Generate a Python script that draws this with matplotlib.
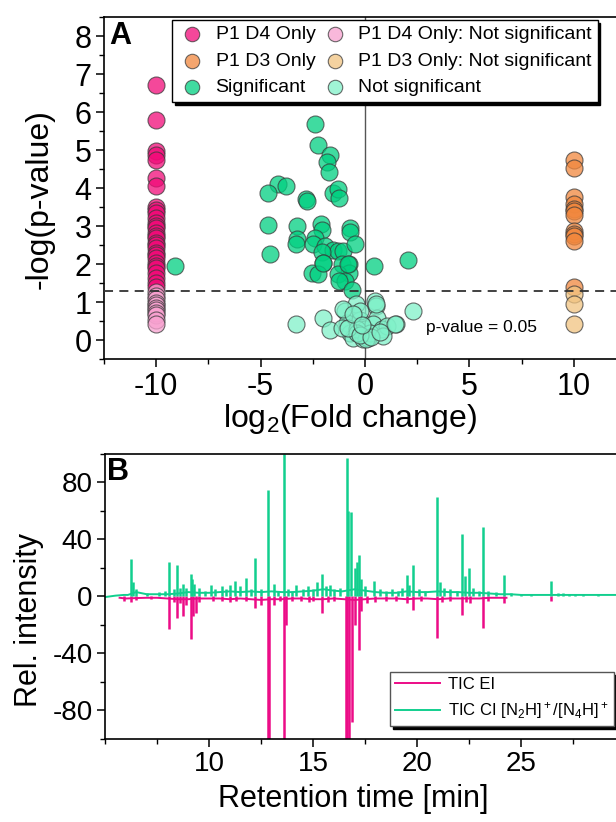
import matplotlib
matplotlib.use('Agg')
import matplotlib.pyplot as plt
import numpy as np

plt.rcParams['font.family'] = ['Liberation Sans', 'DejaVu Sans']
plt.rcParams['mathtext.default'] = 'regular'
plt.rcParams['axes.unicode_minus'] = False

# ---------------- Panel A: volcano plot ----------------
d4_only_fc = -10
d3_only_fc = 10

d4_only_sig = [6.72, 5.79, 4.98, 4.88, 4.75, 4.27, 4.06, 3.51, 3.42, 3.36, 3.23,
               3.10, 3.00, 2.97, 2.83, 2.75, 2.70, 2.57, 2.50, 2.44, 2.31, 2.25,
               2.18, 2.04, 1.95, 1.91, 1.78, 1.65, 1.52, 1.40]
d4_only_ns = [1.27, 1.18, 1.10, 0.98, 0.93, 0.85, 0.80, 0.72, 0.67, 0.55, 0.44]
d3_only_sig = [4.75, 4.53, 3.77, 3.60, 3.45, 3.41, 3.30, 2.88, 2.80, 2.75, 2.62, 1.40]
d3_only_ns = [1.21, 0.95, 0.42]

sig_fc = [-2.40, -2.24, -1.68, -1.84, -1.71, -4.15, -3.80, -4.66, -2.83, -2.80,
          -1.55, -1.28, -1.23, -4.65, -3.25, -2.12, -2.07, -0.72, -0.72, -3.27,
          -3.31, -2.40, -2.51, -1.92, -1.52, -1.28, -1.04, -0.48, -4.55, -2.07,
          -2.00, -1.12, -0.75, -0.75, -2.56, -2.24, -1.28, 0.43, -0.96, -1.23,
          -0.64, -2.03, -0.80, -9.10, 2.08]
sig_p = [5.69, 5.13, 4.87, 4.69, 4.44, 4.11, 4.06, 3.87, 3.73, 3.67,
         3.87, 3.98, 3.74, 3.04, 3.01, 3.07, 2.90, 2.97, 2.86, 2.66,
         2.55, 2.70, 2.55, 2.48, 2.37, 2.35, 2.35, 2.53, 2.28, 2.33,
         2.03, 2.02, 2.02, 1.78, 1.78, 1.74, 1.74, 1.96, 1.56, 1.56,
         1.34, 2.05, 2.00, 1.96, 2.13]

ns_fc = [-3.31, -2.00, -1.68, -0.96, -0.43, -0.88, -0.72, -0.56, -0.24, 0.00,
         -0.08, 0.16, 0.48, 0.53, 0.56, 0.40, 0.80, 1.04, 1.49, 2.32,
         -1.12, -0.40, 0.24, 0.88, -0.24, -1.04, 0.54, 0.06, -0.40, -0.80,
         1.44, -0.56, -0.24, 0.30, -0.15, 0.70]
ns_p = [0.42, 0.60, 0.27, 0.77, 0.95, 0.47, 0.20, 0.07, 0.55, 0.29,
        0.03, 0.07, 1.04, 0.90, 0.60, 0.42, 0.29, 0.38, 0.42, 0.77,
        0.33, 0.29, 0.20, 0.12, 0.77, 0.82, 0.95, 0.03, 0.20, 0.33,
        0.42, 0.69, 0.15, 0.10, 0.40, 0.22]

p_cut = 0.05

# ---------------- Panel B: chromatograms ----------------
ci_base_t = [5.0, 5.5, 5.9, 6.1, 6.5, 7.0, 7.5, 8.0, 8.5, 9.0, 9.5, 10.0, 10.5,
             11.0, 11.5, 12.0, 12.5, 13.0, 13.5, 14.0, 14.5, 15.0, 15.5, 16.0,
             16.4, 17.0, 17.5, 18.0, 18.5, 19.0, 19.5, 20.0, 20.5, 21.0, 21.5,
             22.0, 22.5, 23.0, 23.5, 24.0, 24.5, 25.0, 26.0, 27.0, 28.0, 29.0, 30.0]
ci_base_v = [-0.5, 0.5, 1.0, 1.0, 3.0, 1.5, 1.5, 1.5, 2.0, 3.0, 2.5, 2.5, 3.0,
             3.5, 3.0, 3.5, 3.0, 3.5, 3.0, 3.0, 3.5, 4.0, 5.0, 4.0,
             3.5, 5.0, 4.0, 3.0, 2.5, 2.5, 3.5, 3.0, 3.0, 3.5, 3.0,
             3.0, 2.5, 2.5, 2.0, 1.5, 1.5, 1.0, 1.0, 1.0, 1.0, 1.0, 1.0]
ci_peak_t = [6.25, 6.35, 6.5, 7.0, 7.6, 7.9, 8.08, 8.3, 8.48, 8.6, 8.73, 8.9,
             9.12, 9.2, 9.3, 9.5, 9.8, 10.1, 10.3, 10.6, 10.8, 11.0, 11.25, 11.5,
             11.8, 12.0, 12.21, 12.5, 12.85, 13.1, 13.3, 13.62, 13.8, 14.0, 14.2,
             14.5, 14.75, 15.0, 15.2, 15.42, 15.6, 15.8, 16.0, 16.3, 16.62, 16.7,
             16.81, 17.0, 17.1, 17.19, 17.3, 17.5, 17.93, 18.2, 18.5, 18.8, 19.1,
             19.3, 19.5, 19.6, 19.82, 20.1, 20.4, 20.95, 21.1, 21.3, 21.6, 21.9,
             22.15, 22.3, 22.52, 22.7, 23.0, 23.15, 23.4, 23.8, 24.2, 24.5, 25.0,
             25.5, 26.43, 26.8, 27.0, 27.3, 27.6, 28.0, 28.7]
ci_peak_v = [26, 10, 5, 2.5, 3, 3.5, 24, 5, 22, 6, 9, 6,
             16, 12, 9, 6, 4, 8, 5, 7, 5, 8, 10.5, 7,
             13, 5, 27, 5, 75, 9, 4, 100, 5, 4, 8,
             5, 7, 5, 10, 16, 7, 8, 5, 6, 97, 60,
             59, 20, 24, 29, 12, 7, 10.5, 5, 4, 5, 4,
             6, 15, 8, 22, 5, 4, 70, 10, 6, 5, 4,
             44, 14, 20, 6, 4, 49, 4, 3, 15, 2.5, 2,
             2, 11, 2.5, 2.5, 2, 2, 1.5, 1.5]

ei_base_t = [5.7, 6.0, 6.5, 7.0, 7.5, 8.0, 8.5, 9.0, 9.5, 10.0, 10.5, 11.0, 11.5,
             12.0, 12.5, 13.0, 13.5, 14.0, 14.5, 15.0, 15.5, 16.0, 16.5, 17.0,
             17.5, 18.0, 18.5, 19.0, 19.5, 20.0, 20.5, 21.0, 21.5, 22.0, 22.5,
             23.0, 23.5, 24.0, 24.3]
ei_base_v = [-1.0, -1.5, -1.2, -1.0, -1.0, -1.5, -2.0, -2.0, -1.5, -1.5, -1.5,
             -2.0, -1.5, -2.0, -2.5, -2.0, -2.0, -1.5, -1.5, -2.0, -2.0, -1.5,
             -2.0, -2.5, -2.0, -1.5, -1.5, -1.5, -2.0, -1.5, -1.5, -2.0, -1.5,
             -1.5, -1.5, -1.5, -1.0, -1.0, -1.0]
ei_peak_t = [5.9, 6.25, 6.5, 7.2, 8.08, 8.3, 8.48, 8.6, 8.77, 8.9, 9.12, 9.25,
             9.35, 9.5, 10.2, 10.6, 11.0, 11.3, 11.8, 12.21, 12.5, 12.82, 12.88,
             13.1, 13.4, 13.62, 13.7, 14.0, 14.4, 14.8, 15.0, 15.42, 15.7, 16.0,
             16.58, 16.65, 16.72, 16.85, 17.0, 17.19, 17.3, 17.6, 18.0, 18.5,
             19.0, 19.5, 19.82, 20.2, 20.95, 21.2, 21.6, 22.15, 22.35, 22.55,
             23.15, 23.4, 24.2, 26.43]
ei_peak_v = [-3, -4, -2.5, -2, -23, -4, -15, -5, -13.5, -6, -30, -14,
             -12, -4, -3, -3, -4, -3, -3, -8, -6, -100, -100,
             -6, -3, -100, -20, -3, -3, -4, -3, -11.6, -4, -3,
             -100, -100, -100, -88, -20, -38, -10, -5, -4, -3,
             -3, -5, -9.5, -3, -29, -4, -3, -13, -4, -5,
             -22, -3, -5, -3]

pink = '#F10A78'
pink_light = '#F8A1D0'
orange = '#F1873D'
orange_light = '#F1C380'
green = '#00D080'
green_light = '#80F1C9'
ei_color = '#EC0C87'
ci_color = '#12CF8E'

fig = plt.figure(figsize=(6.16, 8.22), dpi=100)

# ---------- A ----------
ax1 = fig.add_axes([0.1688, 0.5627, 0.8474, 0.4161])
mk = dict(s=150, edgecolors='#3a3a3a', linewidths=0.8, alpha=0.75, zorder=3)

h1 = ax1.scatter([d4_only_fc] * len(d4_only_sig), d4_only_sig, c=pink, label='P1 D4 Only', **mk)
h2 = ax1.scatter([d3_only_fc] * len(d3_only_sig), d3_only_sig, c=orange, label='P1 D3 Only', **mk)
h3 = ax1.scatter(sig_fc, sig_p, c=green, label='Significant', **mk)
h4 = ax1.scatter([d4_only_fc] * len(d4_only_ns), d4_only_ns, c=pink_light,
                 label='P1 D4 Only: Not significant', **mk)
h5 = ax1.scatter([d3_only_fc] * len(d3_only_ns), d3_only_ns, c=orange_light,
                 label='P1 D3 Only: Not significant', **mk)
h6 = ax1.scatter(ns_fc, ns_p, c=green_light, label='Not significant', **mk)

ax1.axvline(0, color='#555555', lw=1.0, zorder=1)
ax1.axhline(-np.log10(p_cut), color='#333333', lw=1.3, ls=(0, (5, 3.5)), zorder=4)
ax1.text(2.9, 0.33, 'p-value = 0.05', fontsize=12.5, va='center', ha='left')

ax1.set_xlim(-12.5, 12.5)
ax1.set_ylim(-0.5, 8.5)
ax1.set_xticks([-10, -5, 0, 5, 10])
ax1.set_xticks(np.arange(-12.5, 12.6, 2.5), minor=True)
ax1.set_yticks(range(0, 9))
ax1.set_yticks(np.arange(-0.5, 8.6, 0.5), minor=True)
ax1.set_xlabel('log$_2$(Fold change)', fontsize=23)
ax1.set_ylabel('-log(p-value)', fontsize=23)
ax1.xaxis.set_label_coords(0.471, -0.125)
ax1.yaxis.set_label_coords(-0.095, 0.47)
ax1.text(0.01, 0.99, 'A', transform=ax1.transAxes, fontsize=22, fontweight='bold',
         va='top', ha='left')

leg1 = ax1.legend(handles=[h1, h2, h3, h4, h5, h6], ncol=2, loc='upper left',
                  bbox_to_anchor=(0.13, 0.993), borderaxespad=0, fontsize=14,
                  frameon=True, fancybox=False, edgecolor='black', framealpha=1,
                  shadow={'color': 'black', 'alpha': 1}, markerscale=0.85,
                  handletextpad=0.45, columnspacing=0.25, labelspacing=0.45,
                  borderpad=0.3, handlelength=1.5)
leg1.get_frame().set_linewidth(1.0)

# ---------- B ----------
ax2 = fig.add_axes([0.1705, 0.1013, 0.8442, 0.3464])
ax2.plot(ei_base_t, ei_base_v, color=ei_color, lw=1.4, label='TIC EI')
ax2.vlines(ei_peak_t, 0, ei_peak_v, color=ei_color, lw=1.8)
ax2.plot(ci_base_t, ci_base_v, color=ci_color, lw=1.4,
         label='TIC CI [N$_2$H]$^+$/[N$_4$H]$^+$')
ax2.vlines(ci_peak_t, 0, ci_peak_v, color=ci_color, lw=1.8)

ax2.set_xlim(5, 30)
ax2.set_ylim(-100, 100)
ax2.set_xticks([10, 15, 20, 25])
ax2.set_xticks(np.arange(5, 30.1, 2.5), minor=True)
ax2.set_yticks([-80, -40, 0, 40, 80])
ax2.set_yticks(np.arange(-100, 101, 20), minor=True)
ax2.set_xlabel('Retention time [min]', fontsize=22)
ax2.set_ylabel('Rel. intensity', fontsize=22)
ax2.xaxis.set_label_coords(0.477, -0.16)
ax2.yaxis.set_label_coords(-0.118, 0.417)
ax2.text(0.004, 0.99, 'B', transform=ax2.transAxes, fontsize=22, fontweight='bold',
         va='top', ha='left')

leg2 = ax2.legend(loc='upper left', bbox_to_anchor=(0.548, 0.235), borderaxespad=0,
                  fontsize=12, frameon=True, fancybox=False, edgecolor='#555555',
                  framealpha=1, shadow={'color': 'black', 'alpha': 1},
                  handlelength=2.7, handletextpad=0.5, borderpad=0.3)
leg2.get_frame().set_linewidth(1.0)

for ax, ls in ((ax1, 22), (ax2, 20)):
    ax.tick_params(which='major', direction='out', length=6, width=1.1, labelsize=ls,
                   top=False, right=False, pad=3)
    ax.tick_params(which='minor', direction='out', length=3.5, width=1.0,
                   top=False, right=False)
    for sp in ax.spines.values():
        sp.set_linewidth(1.2)

fig.savefig('out.png', dpi=100)
